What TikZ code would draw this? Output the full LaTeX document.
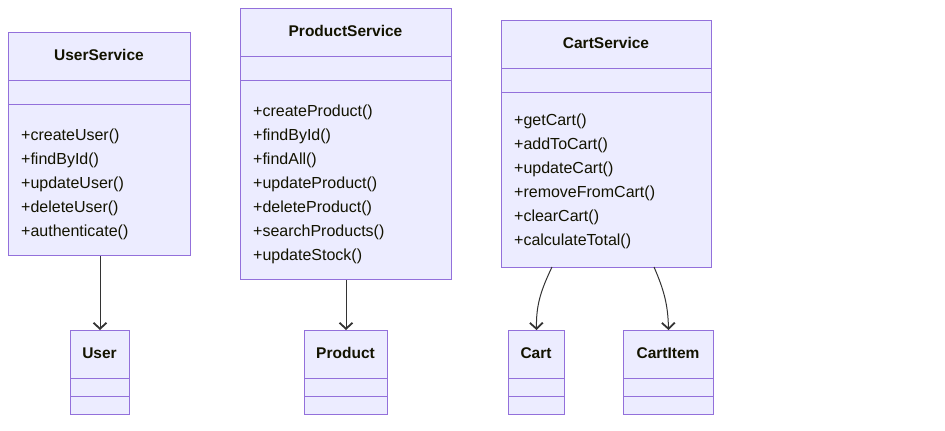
\documentclass[tikz,border=0pt]{standalone}
\usepackage{fontspec}
\setmainfont{Liberation Sans}
\usetikzlibrary{arrows.meta,positioning}
\definecolor{classfill}{HTML}{ECECFF}
\definecolor{classline}{HTML}{9370DB}
\definecolor{linkline}{HTML}{333333}
\definecolor{classtext}{HTML}{131300}
\tikzset{
  classbox/.style={draw=classline,fill=classfill,line width=1pt,inner sep=0pt,anchor=north west},
  divider/.style={draw=classline,line width=1pt},
  classtitle/.style={font=\fontsize{15.5}{18}\bfseries\selectfont,text=classtext,inner sep=0pt},
  member/.style={anchor=base west,inner sep=0pt,font=\fontsize{16}{19}\selectfont,text=classtext},
  dep/.style={draw=linkline,line width=1pt,-{Straight Barb[length=6pt,width=13pt,line width=1.8pt]}}
}

\begin{document}
\begin{tikzpicture}[x=1pt,y=-1pt]
        \useasboundingbox (0,0) rectangle (945,431);

        % services
        \node[classbox,minimum width=182pt,minimum height=223pt] (us) at (8,32) {};
        \draw[divider] (8,80) -- (190,80);
        \draw[divider] (8,104) -- (190,104);
        \node[classtitle] (us-t) at (99,55) {UserService};
        \foreach \m [count=\i] in {createUser,findById,updateUser,deleteUser,authenticate}
            \node[member] (us-m\i) at (21,{140+24*(\i-1)}) {+\m()};

        \node[classbox,minimum width=211pt,minimum height=271pt] (ps) at (240,8) {};
        \draw[divider] (240,56) -- (451,56);
        \draw[divider] (240,80) -- (451,80);
        \node[classtitle] (ps-t) at (345.5,31) {ProductService};
        \foreach \m [count=\i] in {createProduct,findById,findAll,updateProduct,deleteProduct,searchProducts,updateStock}
            \node[member] (ps-m\i) at (253,{116+24*(\i-1)}) {+\m()};

        \node[classbox,minimum width=210pt,minimum height=247pt] (cs) at (501,20) {};
        \draw[divider] (501,68) -- (711,68);
        \draw[divider] (501,92) -- (711,92);
        \node[classtitle] (cs-t) at (606,43) {CartService};
        \foreach \m [count=\i] in {getCart,addToCart,updateCart,removeFromCart,clearCart,calculateTotal}
            \node[member] (cs-m\i) at (514,{125+24*(\i-1)}) {+\m()};

        % entities
        \node[classbox,minimum width=59pt,minimum height=84pt] (user) at (70,330) {};
        \draw[divider] (70,378) -- (129,378);
        \draw[divider] (70,396) -- (129,396);
        \node[classtitle] (user-t) at (99.5,353) {User};

        \node[classbox,minimum width=83pt,minimum height=84pt] (prod) at (304,330) {};
        \draw[divider] (304,378) -- (387,378);
        \draw[divider] (304,396) -- (387,396);
        \node[classtitle] (prod-t) at (345.5,353) {Product};

        \node[classbox,minimum width=56pt,minimum height=84pt] (cart) at (508,330) {};
        \draw[divider] (508,378) -- (564,378);
        \draw[divider] (508,396) -- (564,396);
        \node[classtitle] (cart-t) at (536,353) {Cart};

        \node[classbox,minimum width=90pt,minimum height=84pt] (item) at (623,330) {};
        \draw[divider] (623,378) -- (713,378);
        \draw[divider] (623,396) -- (713,396);
        \node[classtitle] (item-t) at (668,353) {CartItem};

        % links
        \coordinate (cs-a) at (552,267);
        \coordinate (cs-b) at (654,267);
        \draw[dep] (us.south -| user.north) -- (user.north);
        \draw[dep] (ps.south -| prod.north) -- (prod.north);
        \draw[dep] (cs-a) .. controls (541,290) and (536,305) .. (cart.north);
        \draw[dep] (cs-b) .. controls (664,290) and (668,305) .. (item.north);
\end{tikzpicture}
\end{document}
